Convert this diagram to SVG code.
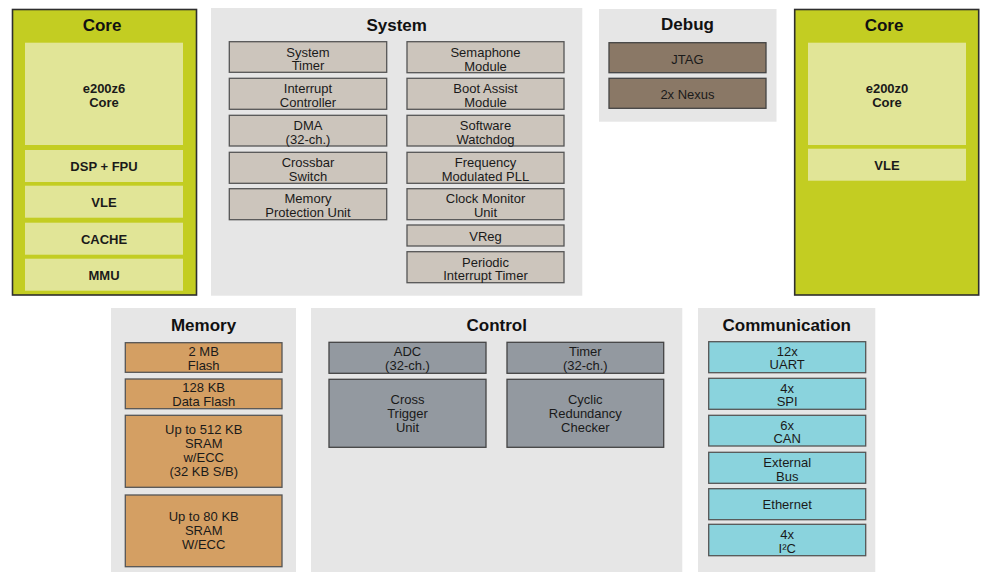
<svg xmlns="http://www.w3.org/2000/svg" width="983" height="573" viewBox="0 0 983 573">
<style>
text{font-family:"Liberation Sans",Arial,Helvetica,sans-serif;fill:#1a1a1a;text-anchor:middle}
.t{font-size:17px;font-weight:bold;fill:#111}
.b{font-size:13px;font-weight:bold}
.r{font-size:13px}
.core{fill:#c3cd22;stroke:#2e2e2e;stroke-width:1.6}
.ci{fill:#e1e597}
.grp{fill:#e6e6e6}
.sys{fill:#ccc5bc;stroke:#555;stroke-width:1.3}
.dbg{fill:#8a7866;stroke:#444;stroke-width:1.3}
.mem{fill:#d49f63;stroke:#555;stroke-width:1.3}
.ctl{fill:#9399a0;stroke:#444;stroke-width:1.3}
.com{fill:#8ad3dd;stroke:#555;stroke-width:1.3}
</style>
<rect width="983" height="573" fill="#ffffff"/>

<g id="core-left">
<rect class="core" x="12.5" y="9.5" width="184" height="285.5"/>
<text class="t" x="102" y="31">Core</text>
<rect class="ci" x="25" y="42.7" width="158" height="102.3"/>
<text class="b" x="104" y="92.5">e200z6</text>
<text class="b" x="104" y="106.5">Core</text>
<rect class="ci" x="25" y="150" width="158" height="32"/>
<text class="b" x="104" y="171">DSP + FPU</text>
<rect class="ci" x="25" y="185.7" width="158" height="32"/>
<text class="b" x="104" y="206.7">VLE</text>
<rect class="ci" x="25" y="222.7" width="158" height="32"/>
<text class="b" x="104" y="243.5">CACHE</text>
<rect class="ci" x="25" y="258.7" width="158" height="32"/>
<text class="b" x="104" y="279.5">MMU</text>
</g>

<g id="system">
<rect class="grp" x="211" y="8" width="371.3" height="287.7"/>
<text class="t" x="396.7" y="31">System</text>
<g id="sys-timer"><rect class="sys" x="229.3" y="41.7" width="157.4" height="30.6"/><text class="r" x="308" y="56.5">System</text><text class="r" x="308" y="70">Timer</text></g>
<g id="int-ctrl"><rect class="sys" x="229.3" y="78.3" width="157.4" height="31"/><text class="r" x="308" y="93.3">Interrupt</text><text class="r" x="308" y="106.5">Controller</text></g>
<g id="dma"><rect class="sys" x="229.3" y="115.3" width="157.4" height="30.7"/><text class="r" x="308" y="130.3">DMA</text><text class="r" x="308" y="143.5">(32-ch.)</text></g>
<g id="crossbar"><rect class="sys" x="229.3" y="152.3" width="157.4" height="31"/><text class="r" x="308" y="167.3">Crossbar</text><text class="r" x="308" y="180.5">Switch</text></g>
<g id="mpu"><rect class="sys" x="229.3" y="188.7" width="157.4" height="31"/><text class="r" x="308" y="203.3">Memory</text><text class="r" x="308" y="216.5">Protection Unit</text></g>
<g id="sema"><rect class="sys" x="407" y="41.7" width="157" height="31"/><text class="r" x="485.5" y="56.5">Semaphone</text><text class="r" x="485.5" y="70.5">Module</text></g>
<g id="boot"><rect class="sys" x="407" y="78.3" width="157" height="31"/><text class="r" x="485.5" y="93.3">Boot Assist</text><text class="r" x="485.5" y="106.5">Module</text></g>
<g id="swdog"><rect class="sys" x="407" y="115.3" width="157" height="30.7"/><text class="r" x="485.5" y="130.3">Software</text><text class="r" x="485.5" y="143.5">Watchdog</text></g>
<g id="fmpll"><rect class="sys" x="407" y="152.3" width="157" height="31"/><text class="r" x="485.5" y="167.3">Frequency</text><text class="r" x="485.5" y="180.5">Modulated PLL</text></g>
<g id="cmu"><rect class="sys" x="407" y="188.7" width="157" height="31"/><text class="r" x="485.5" y="203.3">Clock Monitor</text><text class="r" x="485.5" y="216.5">Unit</text></g>
<g id="vreg"><rect class="sys" x="407" y="225" width="157" height="21"/><text class="r" x="485.5" y="240.5">VReg</text></g>
<g id="pit"><rect class="sys" x="407" y="251.7" width="157" height="31"/><text class="r" x="485.5" y="266.5">Periodic</text><text class="r" x="485.5" y="280">Interrupt Timer</text></g>
</g>

<g id="debug">
<rect class="grp" x="599" y="9" width="177.5" height="112.7"/>
<text class="t" x="687.5" y="29.5">Debug</text>
<g id="jtag"><rect class="dbg" x="609" y="42.7" width="157" height="30"/><text class="r" x="687.5" y="63.5">JTAG</text></g>
<g id="nexus"><rect class="dbg" x="609" y="78.3" width="157" height="30"/><text class="r" x="687.5" y="98.5">2x Nexus</text></g>
</g>

<g id="core-right">
<rect class="core" x="794.7" y="9.5" width="184" height="285.5"/>
<text class="t" x="884" y="31">Core</text>
<rect class="ci" x="808" y="42.7" width="158" height="102.3"/>
<text class="b" x="887" y="92.5">e200z0</text>
<text class="b" x="887" y="106.5">Core</text>
<rect class="ci" x="808" y="148.7" width="158" height="32"/>
<text class="b" x="887" y="170">VLE</text>
</g>

<g id="memory">
<rect class="grp" x="111" y="308" width="185" height="264"/>
<text class="t" x="203.5" y="330.5">Memory</text>
<g id="flash"><rect class="mem" x="125.3" y="342.7" width="156.7" height="29.6"/><text class="r" x="203.7" y="355.5">2 MB</text><text class="r" x="203.7" y="369.5">Flash</text></g>
<g id="dflash"><rect class="mem" x="125.3" y="379" width="156.7" height="29.7"/><text class="r" x="203.7" y="392">128 KB</text><text class="r" x="203.7" y="406">Data Flash</text></g>
<g id="sram512"><rect class="mem" x="125.3" y="415.3" width="156.7" height="72"/><text class="r" x="203.7" y="433.5">Up to 512 KB</text><text class="r" x="203.7" y="447.5">SRAM</text><text class="r" x="203.7" y="461.5">w/ECC</text><text class="r" x="203.7" y="475.5">(32 KB S/B)</text></g>
<g id="sram80"><rect class="mem" x="125.3" y="495" width="156.7" height="71.7"/><text class="r" x="203.7" y="521">Up to 80 KB</text><text class="r" x="203.7" y="535">SRAM</text><text class="r" x="203.7" y="549">W/ECC</text></g>
</g>

<g id="control">
<rect class="grp" x="311" y="308" width="371.3" height="264"/>
<text class="t" x="496.7" y="330.5">Control</text>
<g id="adc"><rect class="ctl" x="329" y="342.3" width="157" height="31"/><text class="r" x="407.5" y="356">ADC</text><text class="r" x="407.5" y="369.5">(32-ch.)</text></g>
<g id="timer"><rect class="ctl" x="507" y="342.3" width="156.7" height="31"/><text class="r" x="585.3" y="356">Timer</text><text class="r" x="585.3" y="369.5">(32-ch.)</text></g>
<g id="ctu"><rect class="ctl" x="329" y="379.3" width="157" height="68"/><text class="r" x="407.5" y="403.5">Cross</text><text class="r" x="407.5" y="417.5">Trigger</text><text class="r" x="407.5" y="431.5">Unit</text></g>
<g id="crc"><rect class="ctl" x="507" y="379.3" width="156.7" height="68"/><text class="r" x="585.3" y="403.5">Cyclic</text><text class="r" x="585.3" y="417.5">Redundancy</text><text class="r" x="585.3" y="431.5">Checker</text></g>
</g>

<g id="communication">
<rect class="grp" x="698" y="308" width="177.3" height="264"/>
<text class="t" x="786.8" y="331">Communication</text>
<g id="uart"><rect class="com" x="708.7" y="341.7" width="157" height="31"/><text class="r" x="787.2" y="355.5">12x</text><text class="r" x="787.2" y="369">UART</text></g>
<g id="spi"><rect class="com" x="708.7" y="378.3" width="157" height="31"/><text class="r" x="787.2" y="392.5">4x</text><text class="r" x="787.2" y="406">SPI</text></g>
<g id="can"><rect class="com" x="708.7" y="415.3" width="157" height="30.7"/><text class="r" x="787.2" y="429.5">6x</text><text class="r" x="787.2" y="443">CAN</text></g>
<g id="extbus"><rect class="com" x="708.7" y="452.3" width="157" height="31"/><text class="r" x="787.2" y="467">External</text><text class="r" x="787.2" y="480.5">Bus</text></g>
<g id="ethernet"><rect class="com" x="708.7" y="488.7" width="157" height="31"/><text class="r" x="787.2" y="508.5">Ethernet</text></g>
<g id="i2c"><rect class="com" x="708.7" y="524.3" width="157" height="31.4"/><text class="r" x="787.2" y="539">4x</text><text class="r" x="787.2" y="552.5">I²C</text></g>
</g>

<g id="connectors"></g>
</svg>
